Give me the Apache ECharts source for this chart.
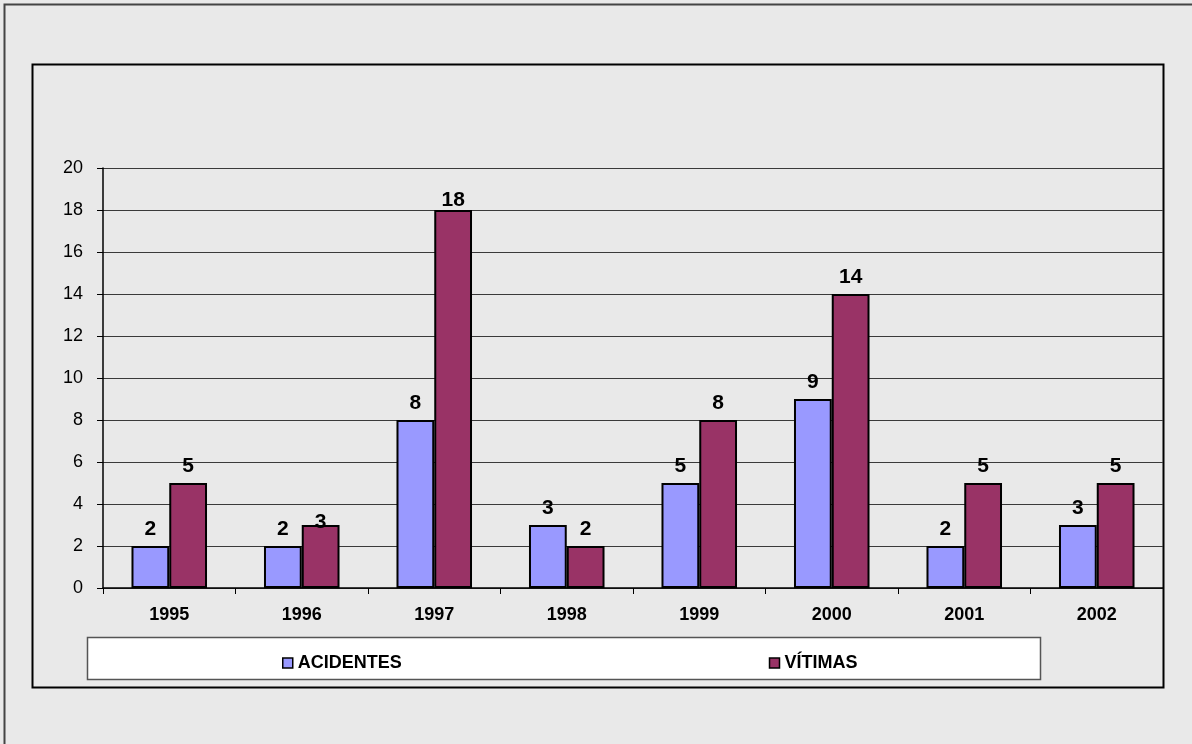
<!DOCTYPE html>
<html>
<head>
<meta charset="utf-8">
<title>Acidentes e vítimas</title>
<script src="https://cdn.jsdelivr.net/npm/echarts@6/dist/echarts.min.js"></script>
<style>
	html, body { margin: 0; padding: 0; background: #e9e9e9; }
	#main { width: 1192px; height: 744px; }
</style>
</head>
<body>
<div id="main"></div>
<script>
'use strict';

let years = ['1995', '1996', '1997', '1998', '1999', '2000', '2001', '2002'];
let acidentes = [2, 2, 8, 3, 5, 9, 2, 3];
let vitimas = [5, 3, 18, 2, 8, 14, 5, 5];
let yTicks = { min: 0, max: 20, interval: 2 };

let font = "'Liberation Sans', Arial, sans-serif";

// excel pushed a couple of labels down onto the bar, copy that
let vitimasLabelShift = { 1: 14, 2: 7 };

function withLabels(values, shift) {
	return values.map((v, i) => {
		if (shift && shift[i] !== undefined) {
			return { value: v, label: { offset: [0, shift[i]] } };
		}
		return v;
	});
}

let myChart = echarts.init(document.getElementById('main'));

let barLabel = {
	show: true,
	position: 'top',
	distance: 6,
	color: '#000',
	fontFamily: font,
	fontWeight: 'bold',
	fontSize: 21
};

let option = {
	backgroundColor: '#e9e9e9',
	animation: false,
	graphic: [{
		type: 'rect',
		shape: { x: 4.5, y: 4.5, width: 1300, height: 900 },
		style: { fill: 'none', stroke: '#444', lineWidth: 2 },
		silent: true
	}, {
		type: 'rect',
		shape: { x: 32.5, y: 64.5, width: 1131, height: 623 },
		style: { fill: 'none', stroke: '#000', lineWidth: 2 },
		silent: true
	}, {
		type: 'rect',
		shape: { x: 87.5, y: 637.5, width: 953, height: 42 },
		style: { fill: '#fff', stroke: '#555', lineWidth: 1.5 },
		silent: true
	}],
	legend: {
		left: 277,
		top: 649,
		icon: 'rect',
		itemWidth: 10,
		itemHeight: 10,
		itemGap: 367,
		itemStyle: { borderColor: '#000', borderWidth: 1.5 },
		textStyle: {
			color: '#000',
			fontFamily: font,
			fontWeight: 'bold',
			fontSize: 18
		},
		data: ['ACIDENTES', 'VÍTIMAS']
	},
	grid: {
		left: 103,
		right: 29,
		top: 168,
		bottom: 156,
		containLabel: false
	},
	xAxis: {
		type: 'category',
		data: years,
		axisLine: { lineStyle: { color: '#000', width: 1.5 } },
		axisTick: { show: true, length: 6, lineStyle: { color: '#000' } },
		axisLabel: {
			margin: 18,
			color: '#000',
			fontFamily: font,
			fontWeight: 'bold',
			fontSize: 18
		}
	},
	yAxis: {
		type: 'value',
		min: yTicks.min,
		max: yTicks.max,
		interval: yTicks.interval,
		axisLine: { show: true, lineStyle: { color: '#000', width: 1.5 } },
		axisTick: { show: true, length: 6, lineStyle: { color: '#000' } },
		axisLabel: {
			margin: 20,
			color: '#000',
			fontFamily: font,
			fontSize: 18
		},
		splitLine: { lineStyle: { color: '#3a3a3a', width: 1.2 } }
	},
	series: [{
		name: 'ACIDENTES',
		type: 'bar',
		barGap: '0%',
		barCategoryGap: '43%',
		itemStyle: { color: '#9999ff', borderColor: '#000', borderWidth: 2 },
		label: barLabel,
		data: withLabels(acidentes)
	}, {
		name: 'VÍTIMAS',
		type: 'bar',
		itemStyle: { color: '#993366', borderColor: '#000', borderWidth: 2 },
		label: barLabel,
		data: withLabels(vitimas, vitimasLabelShift)
	}]
};
myChart.setOption(option);
</script>
</body>
</html>
